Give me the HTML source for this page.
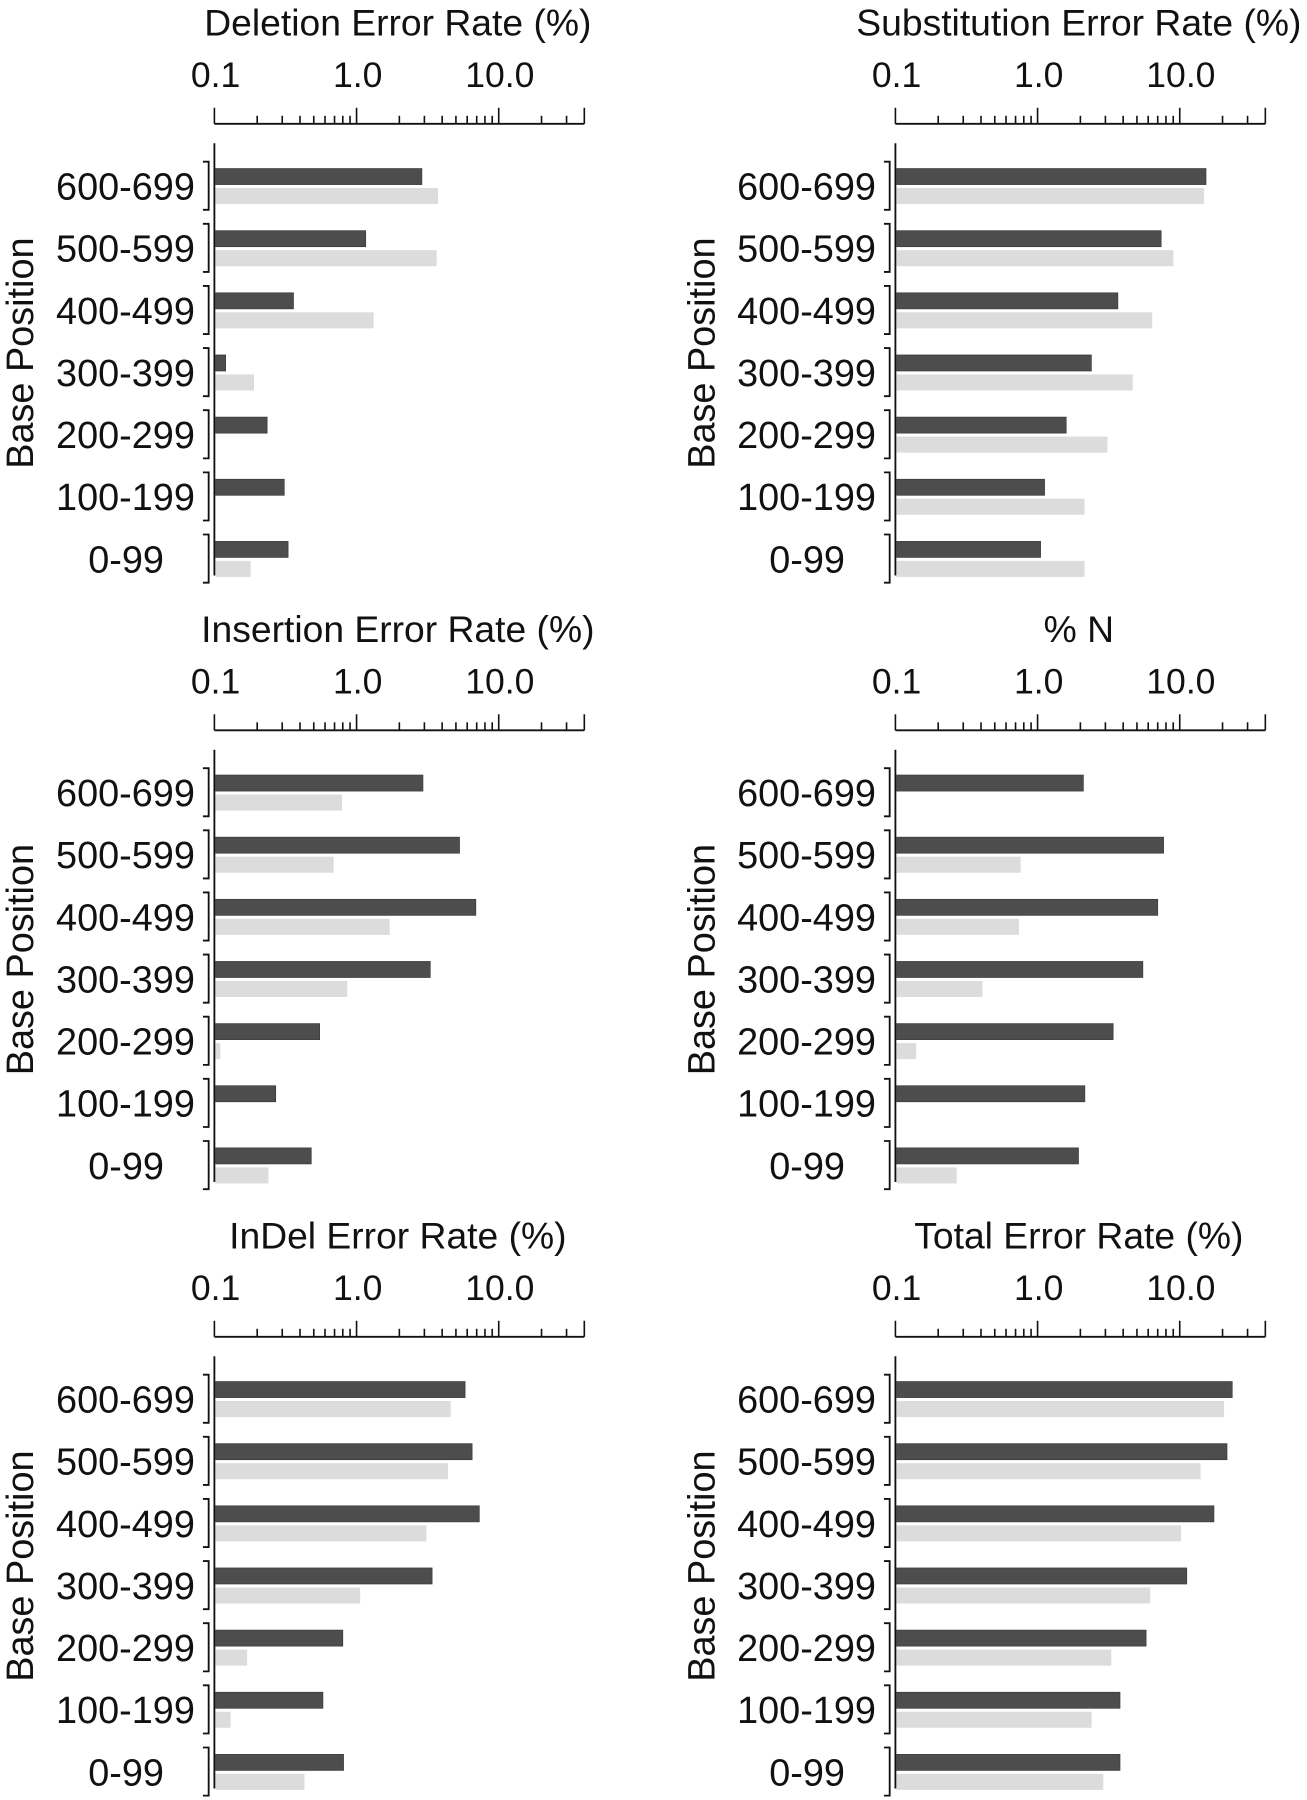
<!DOCTYPE html>
<html><head><meta charset="utf-8"><style>
html,body{margin:0;padding:0;background:#fff;}
svg{display:block;}
text{font-family:"Liberation Sans",Arial,sans-serif;fill:#111;}
</style></head><body>
<svg id="fig" width="1307" height="1800" viewBox="0 0 1140 1570" preserveAspectRatio="none" xmlns="http://www.w3.org/2000/svg"></svg>
<script>
const categories = ["600-699","500-599","400-499","300-399","200-299","100-199","0-99"];
const panelTitles = ["Deletion Error Rate (%)","Substitution Error Rate (%)","Insertion Error Rate (%)","% N","InDel Error Rate (%)","Total Error Rate (%)"];
const tickLabels = ["0.1","1.0","10.0"];
const tickValues = [0.1,1,10];
const deletionDark = [2.88,1.16,0.36,0.12,0.235,0.31,0.33];
const deletionLight = [3.74,3.66,1.32,0.19,null,null,0.18];
const substitutionDark = [15.3,7.4,3.67,2.39,1.59,1.12,1.05];
const substitutionLight = [14.8,9.0,6.4,4.67,3.1,2.14,2.14];
const insertionDark = [2.93,5.3,6.9,3.3,0.55,0.27,0.48];
const insertionLight = [0.79,0.69,1.71,0.86,0.11,null,0.24];
const percentNDark = [2.1,7.7,7.0,5.5,3.4,2.15,1.94];
const percentNLight = [null,0.76,0.74,0.41,0.14,null,0.27];
const indelDark = [5.8,6.5,7.3,3.4,0.8,0.58,0.81];
const indelLight = [4.6,4.4,3.1,1.06,0.17,0.13,0.43];
const totalDark = [23.4,21.5,17.4,11.2,5.8,3.8,3.8];
const totalLight = [20.5,14.0,10.2,6.2,3.3,2.4,2.9];

const darkSeries = [deletionDark,substitutionDark,insertionDark,percentNDark,indelDark,totalDark];
const lightSeries = [deletionLight,substitutionLight,insertionLight,percentNLight,indelLight,totalLight];
const panelNames = ["deletion","substitution","insertion","percent-n","indel","total"];

const NS="http://www.w3.org/2000/svg";
const svg=document.getElementById('fig');
function mk(tag,attrs,parent){const e=document.createElementNS(NS,tag);for(const k in attrs)e.setAttribute(k,attrs[k]);(parent||svg).appendChild(e);return e;}
const DEC=124, MAXV=40;

for(let p=0;p<6;p++){
  const col=p%2,row=Math.floor(p/2);
  const x0=col===0?187:781;
  const dy=row*529;
  const xs=v=>x0+DEC*Math.log10(v/0.1);
  const g=mk('g',{});
  
  
  const title=mk('text',{x:x0+160,y:31+dy,'font-size':32.5,'text-anchor':'middle'},g);
  title.textContent=panelTitles[p];
  
  
  const ay=108+dy;
  const axisLine=mk('line',{x1:x0,y1:ay,x2:xs(MAXV),y2:ay,stroke:'#111','stroke-width':1.6},g);
  
  
  for(let d=0.1;d<MAXV*1.001;d*=10){
    for(let m=1;m<=9;m++){
      const v=d*m; if(v>MAXV*1.001)break;
      const major=(m===1)||(Math.abs(v-MAXV)<1e-6);
      const t=mk('line',{x1:xs(v),y1:ay,x2:xs(v),y2:ay-(major?14:7),stroke:'#111','stroke-width':1.4},g);
      
      
    }
  }
  tickValues.forEach((v,i)=>{
    const t=mk('text',{x:xs(v)+1,y:76+dy,'font-size':31,'text-anchor':'middle'},g);
    t.textContent=tickLabels[i];
    
    
  });
  const yl=mk('line',{x1:x0,y1:125+dy,x2:x0,y2:502+dy,stroke:'#111','stroke-width':1.6},g);
  
  
  const yt=mk('text',{x:0,y:0,'font-size':33,'text-anchor':'middle',transform:`translate(${x0-158},${308+dy}) rotate(-90)`},g);
  yt.textContent='Base Position';
  
  
  categories.forEach((c,i)=>{
    const cy=162+54.2*i+dy;
    const last=(i===categories.length-1);
    const lab=mk('text',{x:x0-17-(last?27:0),y:cy+12,'font-size':33,'text-anchor':'end'},g);
    lab.textContent=c;
    
    
    const br=mk('path',{d:`M${x0-10},${cy-21} h5 v42 h-5`,fill:'none',stroke:'#111','stroke-width':1.6},g);
    
    
    const dv=darkSeries[p][i];
    if(dv!=null){
      const b=mk('rect',{x:x0+1,y:cy-15,width:Math.max(0,xs(dv)-x0-1),height:14,fill:'#4d4d4d',stroke:'#3a3a3a','stroke-width':0.6},g);
      
      
    }
    const lv=lightSeries[p][i];
    if(lv!=null){
      const b=mk('rect',{x:x0+1,y:cy+2,width:Math.max(0,xs(lv)-x0-1),height:14,fill:'#dcdcdc'},g);
      
      
    }
  });
}
</script>
</body></html>
